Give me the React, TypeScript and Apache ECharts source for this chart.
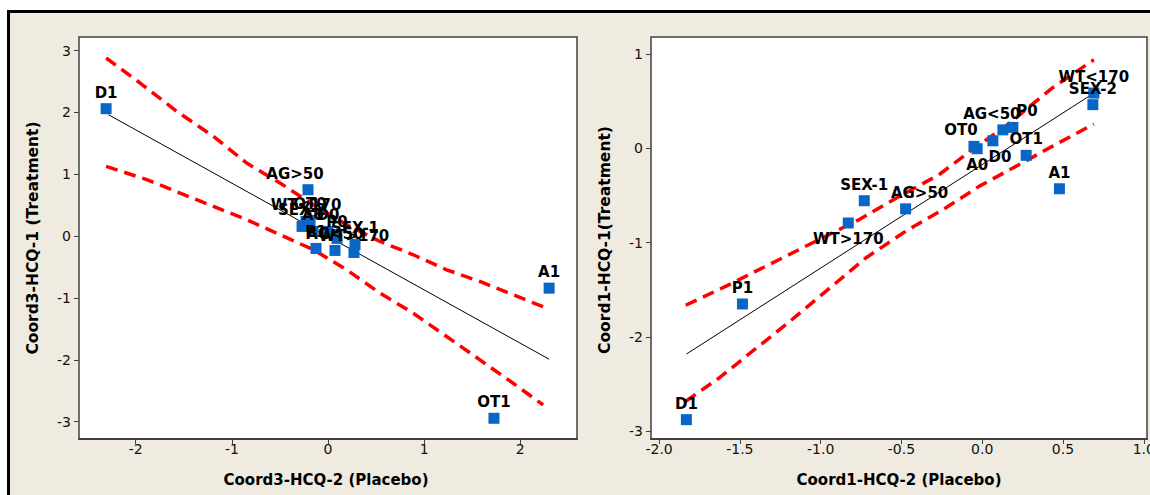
import React, { useEffect, useRef } from "react";
import * as echarts from "echarts";

// ---- Left panel (Coord3) ----
const leftNames = ["D1", "AG>50", "A1", "OT1", "WT<170", "OT0", "SEX-2", "A0", "D0", "P0", "SEX-1", "AG<50", "WT>170", "P1"];
const leftX = [-2.308, -0.208, 2.3, 1.726, -0.229, -0.187, -0.27, -0.156, 0.0, 0.094, 0.281, 0.073, 0.27, -0.125];
const leftY = [2.061, 0.751, -0.841, -2.945, 0.238, 0.254, 0.157, 0.076, 0.076, -0.037, -0.134, -0.231, -0.264, -0.199];
const leftFitX = [-2.284, 2.3];
const leftFitY = [1.964, -1.99];
const leftUpperX = [-2.308, -1.954, -1.573, -1.192, -0.845, -0.499, -0.152, 0.194, 0.541, 0.887, 1.234, 1.58, 1.926, 2.3];
const leftUpperY = [2.88, 2.476, 2.018, 1.613, 1.181, 0.858, 0.508, 0.184, -0.086, -0.301, -0.544, -0.733, -0.948, -1.181];
const leftLowerX = [-2.308, -1.885, -1.538, -1.192, -0.845, -0.499, -0.152, 0.194, 0.541, 0.887, 1.234, 1.58, 1.926, 2.238];
const leftLowerY = [1.128, 0.913, 0.696, 0.481, 0.265, 0.023, -0.22, -0.544, -0.922, -1.246, -1.623, -2.0, -2.379, -2.729];
const leftXTicks = [-2, -1, 0, 1, 2];
const leftYTicks = [-3, -2, -1, 0, 1, 2, 3];

// ---- Right panel (Coord1) ----
const rightNames = ["D1", "P1", "WT>170", "SEX-1", "AG>50", "OT0", "A0", "D0", "AG<50", "P0", "OT1", "A1", "SEX-2", "WT<170"];
const rightX = [-1.831, -1.484, -0.829, -0.73, -0.474, -0.051, -0.031, 0.066, 0.128, 0.19, 0.272, 0.478, 0.685, 0.691];
const rightY = [-2.875, -1.649, -0.791, -0.555, -0.641, 0.021, -0.004, 0.08, 0.196, 0.222, -0.074, -0.428, 0.463, 0.586];
const rightFitX = [-1.831, 0.691];
const rightFitY = [-2.18, 0.585];
const rightUpperX = [-1.835, -1.588, -1.34, -1.093, -0.763, -0.495, -0.268, -0.062, 0.144, 0.433, 0.691];
const rightUpperY = [-1.663, -1.462, -1.25, -1.038, -0.756, -0.492, -0.28, -0.015, 0.233, 0.639, 0.939];
const rightLowerX = [-1.835, -1.628, -1.422, -1.216, -0.968, -0.721, -0.474, -0.227, -0.02, 0.227, 0.433, 0.691];
const rightLowerY = [-2.68, -2.433, -2.15, -1.869, -1.515, -1.162, -0.879, -0.632, -0.403, -0.174, 0.021, 0.257];
const rightXTicks = [-2, -1.5, -1, -0.5, 0, 0.5, 1];
const rightYTicks = [-3, -2, -1, 0, 1];

// label placement tweaks (style only)
const leftLabelStyle: Record<string, { pos?: string; dx?: number }> = {
  "AG>50": { dx: -13 },
};
const rightLabelStyle: Record<string, { pos?: string; dx?: number }> = {
  "WT>170": { pos: "bottom" },
  "A0": { pos: "bottom" },
  "D0": { pos: "bottom", dx: 7 },
  "AG>50": { dx: 14 },
  "P0": { dx: 14 },
  "AG<50": { dx: -11 },
  "OT0": { dx: -13 },
};

const FONT = "'DejaVu Sans', Verdana, sans-serif";
const BLUE = "#0866C6";
const RED = "#FF0000";
const AXIS = "#404040";

function zip(xs: number[], ys: number[]) {
  return xs.map((x, i) => [x, ys[i]]);
}

function points(names: string[], xs: number[], ys: number[], st: Record<string, { pos?: string; dx?: number }>) {
  return names.map((n, i) => {
    const s = st[n] || {};
    return {
      name: n,
      value: [xs[i], ys[i]],
      label: { position: s.pos || "top", offset: [s.dx || 0, 0] },
    };
  });
}

function xAxisCfg(grid: number, min: number, max: number, ticks: number[], dec: number) {
  return {
    type: "value",
    gridIndex: grid,
    min,
    max,
    splitLine: { show: false },
    axisLine: { show: true, onZero: false, lineStyle: { color: AXIS, width: 2 } },
    axisTick: { show: true, length: 5, customValues: ticks, lineStyle: { color: AXIS } },
    axisLabel: {
      customValues: ticks,
      margin: 3,
      color: "#111",
      fontSize: 14,
      fontFamily: FONT,
      formatter: (v: number) => v.toFixed(dec),
    },
  };
}

function yAxisCfg(grid: number, min: number, max: number, ticks: number[]) {
  return {
    type: "value",
    gridIndex: grid,
    min,
    max,
    splitLine: { show: false },
    axisLine: { show: false, onZero: false },
    axisTick: { show: true, length: 5, customValues: ticks, lineStyle: { color: AXIS } },
    axisLabel: {
      customValues: ticks,
      margin: 8,
      color: "#111",
      fontSize: 14,
      fontFamily: FONT,
      formatter: (v: number) => String(v),
    },
  };
}

function lineSeries(xi: number, data: number[][], dashed: boolean) {
  return {
    type: "line",
    xAxisIndex: xi,
    yAxisIndex: xi,
    data,
    showSymbol: false,
    symbol: "none",
    silent: true,
    lineStyle: dashed
      ? { color: RED, width: 3.5, type: [12, 7] }
      : { color: "#000", width: 1 },
    z: 2,
  };
}

function scatterSeries(xi: number, data: any[]) {
  return {
    type: "scatter",
    xAxisIndex: xi,
    yAxisIndex: xi,
    data,
    symbol: "rect",
    symbolSize: 11,
    itemStyle: { color: BLUE, opacity: 1 },
    z: 3,
    label: {
      show: true,
      formatter: "{b}",
      distance: 3,
      color: "#000",
      fontSize: 15,
      fontWeight: "bold",
      fontFamily: FONT,
    },
  };
}

export default function App() {
  const ref = useRef<HTMLDivElement>(null);
  useEffect(() => {
    if (!ref.current) return;
    const chart = echarts.init(ref.current, undefined, { renderer: "svg" });
    const titleStyle = {
      fill: "#000",
      fontSize: 15.5,
      fontWeight: "bold",
      fontFamily: FONT,
      textAlign: "center",
      textVerticalAlign: "middle",
    };
    chart.setOption({
      animation: false,
      grid: [
        { left: 79, top: 37, width: 498, height: 402, show: true, backgroundColor: "#fff", borderColor: AXIS, borderWidth: 1.5 },
        { left: 651, top: 37, width: 496, height: 402, show: true, backgroundColor: "#fff", borderColor: AXIS, borderWidth: 1.5 },
      ],
      xAxis: [
        xAxisCfg(0, -2.59, 2.59, leftXTicks, 0),
        xAxisCfg(1, -2.05, 1.02, rightXTicks, 1),
      ],
      yAxis: [
        yAxisCfg(0, -3.28, 3.22, leftYTicks),
        yAxisCfg(1, -3.08, 1.18, rightYTicks),
      ],
      series: [
        lineSeries(0, zip(leftFitX, leftFitY), false),
        lineSeries(0, zip(leftUpperX, leftUpperY), true),
        lineSeries(0, zip(leftLowerX, leftLowerY), true),
        scatterSeries(0, points(leftNames, leftX, leftY, leftLabelStyle)),
        lineSeries(1, zip(rightFitX, rightFitY), false),
        lineSeries(1, zip(rightUpperX, rightUpperY), true),
        lineSeries(1, zip(rightLowerX, rightLowerY), true),
        scatterSeries(1, points(rightNames, rightX, rightY, rightLabelStyle)),
      ],
      graphic: [
        { type: "text", x: 326, y: 480, style: { ...titleStyle, fontSize: 15, text: "Coord3-HCQ-2 (Placebo)" } },
        { type: "text", x: 899, y: 480, style: { ...titleStyle, fontSize: 15, text: "Coord1-HCQ-2 (Placebo)" } },
        { type: "text", x: 33, y: 238, rotation: Math.PI / 2, style: { ...titleStyle, text: "Coord3-HCQ-1 (Treatment)" } },
        { type: "text", x: 605, y: 240, rotation: Math.PI / 2, style: { ...titleStyle, text: "Coord1-HCQ-1(Treatment)" } },
      ],
    });
    return () => chart.dispose();
  }, []);

  return (
    <div style={{ position: "fixed", left: 0, top: 0, width: 1150, height: 495, overflow: "hidden", background: "#fff" }}>
      <div
        style={{
          position: "absolute",
          left: 7,
          top: 10,
          width: 1300,
          height: 600,
          background: "#EFEBE1",
          border: "3px solid #000",
          boxSizing: "border-box",
        }}
      />
      <div ref={ref} style={{ position: "absolute", left: 0, top: 0, width: 1200, height: 495 }} />
    </div>
  );
}
